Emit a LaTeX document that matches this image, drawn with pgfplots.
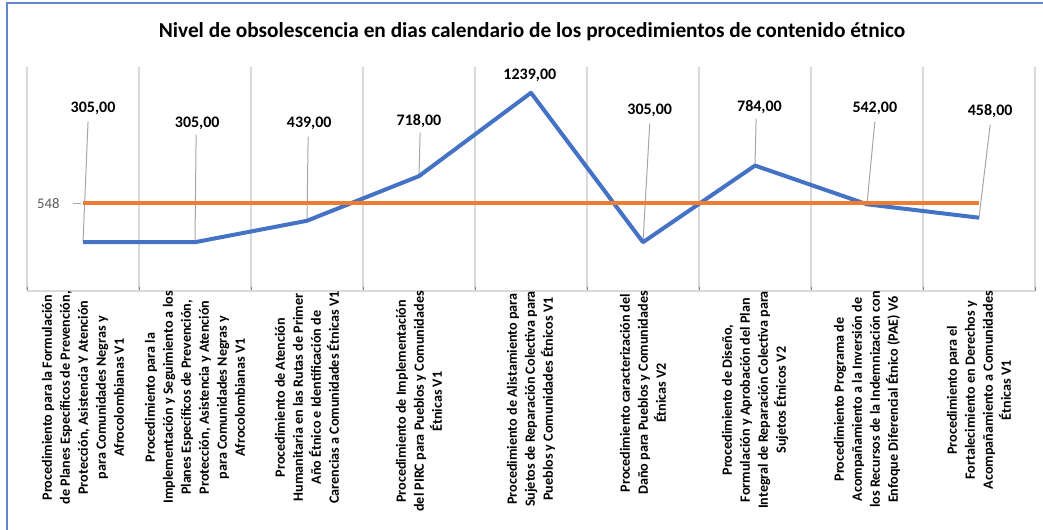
\documentclass[border=0pt]{standalone}
\usepackage{fontspec}
\setmainfont{Carlito}
\usepackage{pgfplots}
\pgfplotsset{compat=1.18}
\definecolor{serieazul}{HTML}{4472C4}
\definecolor{serienaranja}{HTML}{ED7D31}
\definecolor{rejilla}{HTML}{D9D9D9}
\definecolor{guia}{HTML}{A6A6A6}
\definecolor{textogris}{HTML}{595959}

\begin{document}
\begin{tikzpicture}
\begin{axis}[
  scale only axis,
  width=756pt, height=168pt,
  xmin=-0.5, xmax=8.5, ymin=0, ymax=1400,
  axis y line=none,
  axis x line*=bottom,
  x axis line style={rejilla, line width=0.9pt},
  xtick={0,...,8},
  major tick length=0pt,
  minor xtick={-0.5,0.5,...,8.5},
  xminorgrids,
  minor grid style={rejilla, line width=0.9pt},
  ytick=\empty,
  xticklabels={
    {Procedimiento para la Formulación\\de Planes Específicos de Prevención,\\Protección, Asistencia Y Atención\\para Comunidades Negras y\\Afrocolombianas V1},
    {Procedimiento para la\\Implementación y Seguimiento a los\\Planes Específicos de Prevención,\\Protección, Asistencia y Atención\\para Comunidades Negras y\\Afrocolombianas V1},
    {Procedimiento de Atención\\Humanitaria en las Rutas de Primer\\Año Étnico e Identificación de\\Carencias a Comunidades Étnicas V1},
    {Procedimiento de Implementación\\del PIRC para Pueblos y Comunidades\\Étnicas V1},
    {Procedimiento de Alistamiento para\\Sujetos de Reparación Colectiva para\\Pueblos y Comunidades Étnicos V1},
    {Procedimiento caracterización del\\Daño para Pueblos y Comunidades\\Étnicas V2},
    {Procedimiento de Diseño,\\Formulación y Aprobación del Plan\\Integral de Reparación Colectiva para\\Sujetos Étnicos V2},
    {Procedimiento Programa de\\Acompañamiento a la Inversión de\\los Recursos de la Indemnización con\\Enfoque Diferencial Étnico (PAE) V6},
    {Procedimiento para el\\Fortalecimiento en Derechos y\\Acompañamiento a Comunidades\\Étnicas V1}
  },
  xticklabel style={rotate=90, anchor=east, align=center, inner sep=0pt,
    font=\bfseries\fontsize{10.6}{13.5}\selectfont},
  clip=false,
]
% lineas guia de las etiquetas
\draw[guia, line width=0.75pt] (axis cs:0.045,1059) -- (axis cs:0,305);
\draw[guia, line width=0.75pt] (axis cs:1.01,978) -- (axis cs:1,305);
\draw[guia, line width=0.75pt] (axis cs:2.01,965) -- (axis cs:2,439);
\draw[guia, line width=0.75pt] (axis cs:3.01,990) -- (axis cs:3,718);
\draw[guia, line width=0.75pt] (axis cs:5.06,1046) -- (axis cs:5,305);
\draw[guia, line width=0.75pt] (axis cs:6.01,1077) -- (axis cs:6,784);
\draw[guia, line width=0.75pt] (axis cs:7.07,1059) -- (axis cs:7,542);
\draw[guia, line width=0.75pt] (axis cs:8.1,1040) -- (axis cs:8,458);
\draw[guia, line width=0.75pt] (axis cs:-0.09,548) -- (axis cs:-0.02,548);

\addplot[serieazul, line width=3pt, line join=round] coordinates {
  (0,305) (1,305) (2,439) (3,718) (4,1239) (5,305) (6,784) (7,542) (8,458)};
\addplot[serienaranja, line width=3pt] coordinates {
  (0,548) (1,548) (2,548) (3,548) (4,548) (5,548) (6,548) (7,548) (8,548)};

\begin{scope}[every node/.style={font=\bfseries\fontsize{12}{14}\selectfont}]
\node at (axis cs:0.09,1140) {305,00};
\node at (axis cs:1.02,1046) {305,00};
\node at (axis cs:2.02,1046) {439,00};
\node at (axis cs:3.0,1065) {718,00};
\node at (axis cs:3.99,1345) {1239,00};
\node at (axis cs:5.06,1127) {305,00};
\node at (axis cs:6.04,1152) {784,00};
\node at (axis cs:7.07,1140) {542,00};
\node at (axis cs:8.1,1127) {458,00};
\end{scope}
\node[text=textogris, font=\fontsize{11}{13}\selectfont] at (axis cs:-0.31,548) {548};
\end{axis}
\pgfresetboundingbox
\path[use as bounding box] (-20.25pt,-178.5pt) rectangle (762pt,218.25pt);
\draw[serieazul!85, line width=1.5pt] (-15pt,-180pt) -- (-15pt,216pt) -- (763pt,216pt);
\node[font=\bfseries\fontsize{16}{19}\selectfont] at (378.75pt,194.25pt)
  {Nivel de obsolescencia  en dias calendario de los procedimientos de contenido étnico};
\end{tikzpicture}
\end{document}
